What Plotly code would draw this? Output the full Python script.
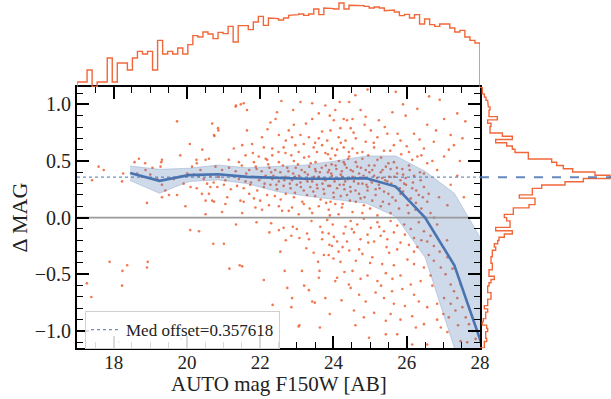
import numpy as np
import plotly.graph_objects as go

FONT = "Liberation Serif"
med_offset = 0.357618
x_title = "AUTO mag F150W [AB]"
y_title = "Δ MAG"

# running median
med_mag = [18.45, 19.25, 20.05, 20.85, 21.65, 22.45, 23.25, 24.05, 24.9, 25.7, 26.5, 27.3, 28.05]
med_dmag = [0.395, 0.325, 0.375, 0.383, 0.36, 0.35, 0.343, 0.343, 0.348, 0.274, 0.0, -0.42, -1.12]
band_hi = [0.456, 0.427, 0.436, 0.465, 0.44, 0.45, 0.465, 0.50, 0.545, 0.545, 0.41, 0.215, -0.2]
band_lo = [0.327, 0.215, 0.318, 0.333, 0.30, 0.23, 0.19, 0.156, 0.127, 0.01, -0.35, -1.15, -1.6]

# top histogram (relative heights), 80 bins over 17..28
top_hist = [15, 15, 51, 0, 15, 15, 87, 15, 72, 72,
            51, 87, 107, 99, 107, 51, 140, 99, 107, 99,
            117, 99, 127, 154, 150, 165, 159, 145, 164, 160,
            182, 135, 184, 184, 172, 195, 212, 185, 207, 205,
            201, 207, 215, 217, 219, 215, 219, 234, 217, 237,
            235, 234, 252, 234, 245, 245, 244, 242, 237, 240,
            237, 229, 231, 225, 214, 218, 207, 217, 189, 204,
            187, 182, 189, 189, 177, 165, 170, 150, 140, 132]
# right histogram (relative widths), 80 bins from +1.15 down to -1.15
right_hist = [7, 7, 13, 18, 23, 25, 30, 27, 27, 52,
              23, 33, 30, 30, 67, 97, 47, 80, 97, 105,
              145, 145, 215, 230, 250, 278, 345, 390, 310, 255,
              185, 157, 157, 118, 165, 165, 147, 100, 100, 73,
              80, 90, 90, 47, 97, 73, 57, 53, 43, 47,
              37, 37, 33, 33, 37, 37, 27, 27, 43, 33,
              27, 23, 23, 33, 33, 23, 23, 13, 23, 17,
              17, 10, 7, 20, 23, 17, 17, 20, 13, 13]

# scatter points (mag, dmag)
pts_bright = [(17.41, 0.33), (17.59, 0.45), (17.73, 0.42), (18.23, 0.32), (18.26, 0.39), (17.27, -0.58),
              (17.39, -0.70), (17.89, -0.39), (18.24, -0.47), (18.37, -0.42), (18.23, -0.60), (18.93, -0.39),
              (18.91, -0.44), (18.14, -1.10), (19.85, -1.07), (20.33, -0.12), (20.09, -0.11), (20.72, -0.23),
              (19.73, 0.85), (20.69, 0.83), (20.75, 0.72), (20.08, 0.65), (20.42, 0.60), (19.82, 0.55),
              (18.69, 0.52), (18.57, 0.49), (18.86, 0.48), (19.32, 0.51), (19.30, 0.49), (19.06, 0.44),
              (18.87, 0.42), (19.28, 0.45), (18.64, 0.39), (18.78, 0.36), (19.0, 0.38), (19.19, 0.34),
              (19.32, 0.29), (19.41, 0.24), (19.32, 0.18), (19.51, 0.20), (18.91, 0.13), (19.73, 0.20),
              (19.91, 0.30), (20.10, 0.27), (20.01, 0.39), (20.14, 0.45), (20.26, 0.51), (20.27, 0.48),
              (20.37, 0.42), (20.51, 0.51), (20.60, 0.52), (20.46, 0.34), (20.55, 0.30), (20.64, 0.27),
              (20.73, 0.31), (20.27, 0.26), (20.41, 0.21), (20.60, 0.21), (20.69, 0.15), (20.51, 0.15),
              (19.96, 0.10), (20.51, 0.03), (19.82, 0.36), (19.64, 0.34), (20.19, 0.38), (20.33, 0.37),
              (20.64, 0.37), (20.86, 0.77)]
pts_mid_high = [(21.55, 1.01), (22.58, 1.03), (23.1, 1.02), (23.42, 1.01), (21.33, 0.98), (22.46, 0.93),
                (21.64, 0.95), (23.6, 0.92), (23.78, 0.99), (24.05, 0.95), (24.17, 1.02), (24.28, 0.87),
                (22.42, 0.87), (22.28, 0.84), (23.42, 0.87), (24.01, 0.86), (22.92, 0.82), (20.85, 0.79),
                (21.64, 0.77), (22.78, 0.77), (23.1, 0.73), (23.69, 0.76), (23.92, 0.77), (24.19, 0.79),
                (24.37, 0.86), (22.05, 0.71), (22.51, 0.73), (22.87, 0.71), (23.33, 0.71), (23.6, 0.70),
                (23.83, 0.68), (24.14, 0.71), (24.33, 0.68), (20.74, 0.73), (21.51, 0.64), (21.78, 0.65),
                (22.1, 0.62), (22.33, 0.61), (22.64, 0.62), (22.96, 0.64), (23.19, 0.65), (23.46, 0.62),
                (23.69, 0.64), (23.96, 0.61), (24.28, 0.62), (21.28, 0.61), (21.6, 0.55), (21.96, 0.54),
                (22.33, 0.55), (22.69, 0.57), (23.05, 0.58), (23.33, 0.54), (23.78, 0.57), (24.05, 0.55),
                (24.42, 0.58), (21.14, 0.51), (21.42, 0.49), (21.83, 0.49), (22.19, 0.51), (22.51, 0.49),
                (22.92, 0.50), (23.51, 0.49), (23.92, 0.52), (24.28, 0.49), (21.34, 0.99), (21.47, 1.0)]
pts_mid_core = [(20.78, 0.45), (20.96, 0.42), (21.15, 0.44), (21.33, 0.41), (21.5, 0.46), (21.7, 0.42),
                (21.88, 0.45), (22.04, 0.41), (22.25, 0.44), (22.41, 0.42), (22.62, 0.46), (22.77, 0.41),
                (22.97, 0.44), (23.13, 0.42), (23.34, 0.45), (23.52, 0.41), (23.68, 0.44), (23.88, 0.42),
                (24.06, 0.46), (24.23, 0.41), (24.36, 0.44), (20.87, 0.36), (21.05, 0.33), (21.24, 0.37),
                (21.42, 0.34), (21.6, 0.32), (21.79, 0.36), (21.97, 0.33), (22.15, 0.37), (22.33, 0.34),
                (22.51, 0.32), (22.69, 0.36), (22.87, 0.33), (23.06, 0.37), (23.24, 0.34), (23.42, 0.32),
                (23.6, 0.36), (23.78, 0.33), (23.96, 0.37), (24.14, 0.34), (24.32, 0.32), (20.83, 0.27),
                (21.01, 0.29), (21.2, 0.25), (21.37, 0.28), (21.55, 0.26), (21.73, 0.29), (21.92, 0.24),
                (22.1, 0.27), (22.28, 0.29), (22.46, 0.25), (22.64, 0.28), (22.83, 0.26), (23.0, 0.29),
                (23.19, 0.24), (23.37, 0.27), (23.55, 0.29), (23.73, 0.25), (23.91, 0.28), (24.1, 0.26),
                (24.28, 0.29), (21.1, 0.18), (21.46, 0.15), (21.83, 0.17), (22.19, 0.20), (22.56, 0.16),
                (22.92, 0.18), (23.28, 0.20), (23.65, 0.16), (24.01, 0.18), (24.37, 0.20), (20.74, 0.14),
                (21.05, 0.12), (21.55, 0.14), (21.87, 0.09), (22.24, 0.11), (22.51, 0.10), (22.87, 0.09),
                (23.19, 0.12), (23.6, 0.10), (23.92, 0.14), (24.23, 0.09), (20.96, 0.05), (21.51, 0.04),
                (22.05, 0.07), (22.78, 0.06), (23.05, 0.03), (23.42, 0.04), (23.87, 0.07), (24.14, 0.03),
                (23.3, 0.38), (23.5, 0.43), (23.7, 0.30), (23.85, 0.40), (24.0, 0.22), (24.2, 0.38),
                (23.1, 0.31), (22.9, 0.39), (24.3, 0.25), (23.95, 0.47), (23.45, 0.23), (24.15, 0.50),
                (22.7, 0.21), (22.3, 0.40), (23.8, 0.13), (24.25, 0.12)]
pts_mid_neg = [(21.34, -0.06), (21.01, -0.23), (21.16, -0.45), (21.44, -0.42), (21.51, -0.43), (21.9, -0.04),
               (22.25, -0.13), (22.34, -0.77), (22.51, -0.11), (22.64, -0.09), (22.67, -0.47), (22.74, -0.62),
               (22.85, -0.16), (22.89, -0.08), (22.87, -0.71), (22.85, -0.79), (23.07, -0.95), (23.07, -0.18),
               (23.14, -0.47), (23.28, -0.14), (23.33, -0.19), (23.26, -0.27), (23.33, -0.64), (23.42, -0.74),
               (23.46, -0.31), (23.58, -0.39), (23.6, -0.53), (23.62, -0.47), (23.64, -0.08), (23.69, -0.19),
               (23.74, -0.33), (23.83, -0.02), (23.87, -0.14), (23.89, -0.24), (23.96, -0.25), (23.98, -0.06),
               (24.01, -0.17), (24.05, -0.56), (24.1, -0.53), (24.14, -0.30), (24.19, -0.39), (24.22, -0.73),
               (23.63, -0.97), (23.49, -0.75), (24.28, -0.14), (24.37, -0.21), (24.42, -0.59), (24.33, -0.08),
               (24.1, -0.21), (23.87, -0.33), (23.78, -0.71), (23.05, -0.96)]
pts_faint_pos = [(24.43, 1.02), (24.93, 1.13), (25.7, 1.11), (26.61, 1.07), (25.61, 0.93), (24.74, 0.95),
                 (24.52, 0.87), (24.88, 0.89), (25.24, 0.86), (25.97, 0.90), (26.29, 0.96), (27.02, 0.87),
                 (27.38, 0.92), (26.56, 0.82), (24.47, 0.79), (25.02, 0.77), (25.47, 0.74), (26.2, 0.74),
                 (27.2, 0.73), (27.52, 0.70), (24.61, 0.70), (24.88, 0.67), (25.2, 0.71), (25.83, 0.68),
                 (26.47, 0.61), (26.74, 0.67), (27.29, 0.64), (24.52, 0.61), (24.79, 0.58), (25.11, 0.62),
                 (25.38, 0.59), (25.65, 0.64), (26.06, 0.58), (26.29, 0.54), (27.02, 0.54), (27.38, 0.37),
                 (27.2, 0.29), (27.56, 0.18), (26.56, 0.48), (26.83, 0.42), (26.47, 0.39), (26.38, 0.33),
                 (24.43, 0.54), (24.61, 0.49), (24.79, 0.52), (24.97, 0.46), (25.2, 0.51), (25.43, 0.45),
                 (25.65, 0.49), (25.88, 0.43), (26.06, 0.46), (24.47, 0.42), (24.7, 0.39), (24.88, 0.42),
                 (25.11, 0.37), (25.29, 0.40), (25.52, 0.36), (25.74, 0.39), (25.97, 0.35), (26.2, 0.37),
                 (24.56, 0.32), (24.79, 0.30), (25.02, 0.33), (25.24, 0.29), (25.47, 0.32), (25.7, 0.27),
                 (25.93, 0.30), (26.15, 0.26), (26.47, 0.27), (24.47, 0.23), (24.7, 0.21), (24.93, 0.24),
                 (25.15, 0.20), (25.38, 0.23), (25.61, 0.18), (25.83, 0.21), (26.11, 0.17), (26.33, 0.20),
                 (24.61, 0.14), (24.83, 0.11), (25.06, 0.15), (25.29, 0.10), (25.52, 0.12), (25.79, 0.08),
                 (26.02, 0.11), (26.24, 0.07), (26.56, 0.14), (24.52, 0.05), (24.79, 0.04), (25.2, 0.02),
                 (25.56, 0.04), (26.65, 0.04), (26.88, 0.18), (27.11, 0.11), (24.65, 0.45), (25.06, 0.42),
                 (25.33, 0.35), (24.52, 0.36), (24.93, 0.27), (24.74, 0.17), (25.56, 0.43), (25.83, 0.33)]
pts_faint_neg = [(24.47, -0.03), (24.65, -0.06), (24.83, -0.01), (25.02, -0.09), (25.2, -0.04), (25.38, -0.12),
                 (25.56, -0.03), (25.74, -0.07), (24.56, -0.13), (24.93, -0.15), (25.29, -0.16), (25.65, -0.13),
                 (25.93, -0.06), (26.11, -0.10), (26.2, -0.18), (26.33, -0.04), (26.47, -0.12), (26.65, -0.16),
                 (26.83, -0.06), (24.74, -0.19), (25.11, -0.21), (25.47, -0.19), (25.83, -0.22), (26.06, -0.24),
                 (26.29, -0.26), (26.56, -0.21), (26.74, -0.25), (24.43, -0.29), (24.61, -0.38), (24.79, -0.32),
                 (25.06, -0.35), (25.33, -0.41), (25.52, -0.31), (25.74, -0.28), (26.02, -0.37), (26.2, -0.41),
                 (26.47, -0.44), (26.74, -0.38), (26.93, -0.44), (27.11, -0.35), (24.52, -0.47), (24.74, -0.54),
                 (24.93, -0.51), (25.2, -0.56), (25.43, -0.49), (25.61, -0.54), (25.83, -0.51), (26.11, -0.59),
                 (26.38, -0.56), (26.65, -0.51), (27.06, -0.50), (27.2, -0.59), (27.29, -0.65), (24.47, -0.62),
                 (24.7, -0.68), (24.88, -0.74), (25.15, -0.66), (25.38, -0.71), (25.65, -0.76), (25.88, -0.63),
                 (26.2, -0.68), (26.33, -0.74), (26.56, -0.79), (26.83, -0.76), (27.02, -0.71), (27.15, -0.88),
                 (27.33, -0.82), (24.56, -0.82), (24.83, -0.88), (25.11, -0.84), (25.43, -0.91), (25.56, -0.85),
                 (25.83, -0.90), (26.15, -0.87), (26.47, -0.94), (26.93, -0.97), (27.11, -1.01), (27.47, -1.09),
                 (24.97, -1.06), (25.43, -1.03), (25.74, -1.03), (26.15, -1.12), (26.56, -1.12), (26.83, -0.90),
                 (27.38, -0.71), (27.52, -0.79), (27.61, -0.88), (27.7, -0.94), (27.79, -1.00), (27.88, -1.07),
                 (27.47, -0.59), (27.2, -0.76)]
pts_dense_extra = [(21.62, 0.39), (21.75, 0.31), (21.9, 0.43), (22.02, 0.35), (22.12, 0.30), (22.22, 0.47),
                   (22.36, 0.37), (22.44, 0.29), (22.55, 0.40), (22.66, 0.33), (22.74, 0.44), (22.81, 0.30),
                   (22.95, 0.36), (23.03, 0.47), (23.11, 0.27), (23.22, 0.40), (23.29, 0.32), (23.38, 0.48),
                   (23.47, 0.36), (23.56, 0.26), (23.63, 0.40), (23.71, 0.34), (23.79, 0.46), (23.86, 0.28),
                   (23.94, 0.39), (24.03, 0.32), (24.08, 0.43), (24.17, 0.29), (24.24, 0.36), (24.31, 0.47),
                   (24.4, 0.34), (24.46, 0.27), (24.53, 0.41), (24.6, 0.35), (24.68, 0.30), (24.75, 0.44),
                   (24.82, 0.37), (24.9, 0.29), (24.98, 0.40), (25.05, 0.31), (25.12, 0.46), (25.19, 0.35),
                   (25.26, 0.26), (25.34, 0.42), (25.41, 0.33), (25.5, 0.48), (25.58, 0.30), (25.66, 0.36),
                   (25.73, 0.44), (25.81, 0.26), (25.9, 0.38), (25.98, 0.29), (26.08, 0.42), (26.17, 0.31),
                   (26.26, 0.24), (26.36, 0.40), (26.44, 0.18),
                   (21.7, 0.21), (22.0, 0.15), (22.4, 0.19), (22.6, 0.06), (22.95, 0.22), (23.15, 0.14),
                   (23.35, 0.08), (23.5, 0.19), (23.75, 0.21), (23.9, 0.02), (24.05, 0.12), (24.2, 0.19),
                   (24.45, 0.15), (24.6, 0.24), (24.85, 0.18), (25.0, 0.08), (25.15, 0.25), (25.35, 0.14),
                   (25.5, 0.21), (25.7, 0.15), (25.9, 0.23), (26.05, 0.04), (26.25, 0.13), (26.4, 0.08),
                   (26.6, 0.21), (26.75, 0.0),
                   (21.8, 0.57), (22.15, 0.52), (22.5, 0.58), (22.85, 0.55), (23.2, 0.53), (23.55, 0.58),
                   (23.85, 0.56), (24.1, 0.60), (24.4, 0.52), (24.65, 0.57), (24.95, 0.55), (25.3, 0.53),
                   (25.55, 0.59), (25.85, 0.56), (26.15, 0.51), (26.4, 0.55), (26.7, 0.50)]
pts_wide_extra = [(22.3, -0.05), (22.7, -0.2), (23.0, -0.1), (23.4, -0.03), (23.7, -0.13), (24.0, -0.36),
                  (24.25, -0.26), (24.5, -0.1), (24.7, -0.28), (24.95, -0.22), (25.25, -0.08), (25.45, -0.26),
                  (25.65, -0.42), (25.95, -0.15), (26.2, -0.3), (26.4, -0.2), (26.6, -0.33), (26.9, -0.3),
                  (27.1, -0.2), (27.25, -0.45),
                  (22.2, 0.78), (22.7, 0.68), (23.25, 0.83), (23.5, 0.66), (23.9, 0.9), (24.2, 0.66),
                  (24.55, 0.75), (24.85, 0.82), (25.1, 0.66), (25.4, 0.8), (25.75, 0.74), (26.0, 0.63),
                  (26.35, 0.69), (26.8, 0.77), (27.15, 0.6), (27.45, 0.5), (22.9, 0.95), (24.6, 1.08),
                  (25.9, 1.0), (26.9, 1.04), (27.6, 0.85),
                  (22.1, -0.55), (22.55, -0.3), (23.2, -0.6), (23.9, -0.85), (24.3, -0.48), (24.6, -0.95),
                  (25.0, -0.4), (25.3, -0.6), (25.6, -0.65), (25.95, -0.78), (26.25, -0.97), (26.7, -0.6),
                  (27.0, -0.85), (27.4, -0.95), (27.65, -1.1)]

all_pts = (pts_bright + pts_mid_high + pts_mid_core + pts_mid_neg + pts_faint_pos + pts_faint_neg
           + pts_dense_extra + pts_wide_extra)
sc_mag = [p[0] for p in all_pts]
sc_dmag = [p[1] for p in all_pts]

XR = [17, 28]
YR = [-1.153, 1.153]
W, H = 611, 399
xd_main = [77 / W, 480 / W]
yd_main = [(H - 348.3) / H, (H - 87) / H]

ORANGE = "#f2673a"
BLUE = "#4a74b0"

fig = go.Figure()

fig.add_trace(go.Scatter(x=sc_mag, y=sc_dmag, mode="markers", showlegend=False,
                         marker=dict(size=2.6, color="rgba(240,96,52,0.85)", line=dict(width=0)),
                         xaxis="x", yaxis="y"))
fig.add_trace(go.Scatter(x=med_mag + med_mag[::-1], y=band_hi + band_lo[::-1], fill="toself",
                         fillcolor="rgba(74,116,176,0.27)", line=dict(color="rgba(74,116,176,0.25)", width=1),
                         mode="lines", showlegend=False, xaxis="x", yaxis="y"))
fig.add_trace(go.Scatter(x=XR, y=[0, 0], mode="lines", line=dict(color="#9a9a9a", width=1.6),
                         showlegend=False, xaxis="x", yaxis="y"))
fig.add_trace(go.Scatter(x=med_mag, y=med_dmag, mode="lines", line=dict(color=BLUE, width=2.6),
                         showlegend=False, xaxis="x", yaxis="y"))
fig.add_trace(go.Scatter(x=XR, y=[med_offset, med_offset], mode="lines",
                         line=dict(color="rgba(74,116,176,0.8)", width=1.2, dash="dot"),
                         name="Med offset=%.6f" % med_offset, showlegend=True, xaxis="x", yaxis="y"))

tedges = np.linspace(XR[0], XR[1], len(top_hist) + 1)
tx, ty = [tedges[0]], [0]
for i, h in enumerate(top_hist):
    tx += [tedges[i], tedges[i + 1]]
    ty += [h, h]
tx.append(tedges[-1]); ty.append(0)
fig.add_trace(go.Scatter(x=tx, y=ty, mode="lines", line=dict(color=ORANGE, width=1.4),
                         showlegend=False, xaxis="x2", yaxis="y2"))

redges = np.linspace(1.15, -1.15, len(right_hist) + 1)
rx, ry = [0], [redges[0]]
for j, w in enumerate(right_hist):
    rx += [w, w]
    ry += [redges[j], redges[j + 1]]
rx.append(0); ry.append(redges[-1])
fig.add_trace(go.Scatter(x=rx, y=ry, mode="lines", line=dict(color=ORANGE, width=1.4),
                         showlegend=False, xaxis="x3", yaxis="y3"))
fig.add_trace(go.Scatter(x=[0, 393], y=[med_offset, med_offset], mode="lines",
                         line=dict(color="rgba(74,116,176,0.85)", width=2, dash="dash"),
                         showlegend=False, xaxis="x3", yaxis="y3"))

axis_common = dict(showgrid=False, zeroline=False, showline=True, linecolor="black", linewidth=2,
                   mirror="allticks", ticks="inside", ticklen=12, tickwidth=1.8, tickcolor="black",
                   automargin=False)

fig.update_layout(
    width=W, height=H, margin=dict(l=0, r=0, t=0, b=0),
    paper_bgcolor="white", plot_bgcolor="white",
    font=dict(family=FONT, color="#222"),
    xaxis=dict(domain=xd_main, range=XR, anchor="y", tickmode="linear", tick0=18, dtick=2,
               ticklabelstandoff=-4, tickfont=dict(family=FONT, size=19, color="#222"),
               minor=dict(ticks="inside", ticklen=6, tickwidth=1.3, tickcolor="black", tick0=17, dtick=0.5),
               **axis_common),
    yaxis=dict(domain=yd_main, range=YR, anchor="x", tickmode="linear", tick0=0, dtick=0.5, tickformat=".1f",
               tickfont=dict(family=FONT, size=20, color="#222"),
               minor=dict(ticks="inside", ticklen=6, tickwidth=1.3, tickcolor="black", tick0=0, dtick=0.1),
               **axis_common),
    xaxis2=dict(domain=xd_main, range=XR, anchor="y2", visible=False),
    yaxis2=dict(domain=[yd_main[1], 1.0], range=[0, 261], anchor="x2", visible=False),
    xaxis3=dict(domain=[480 / W, 1.0], range=[0, 393], anchor="y3", visible=False),
    yaxis3=dict(domain=yd_main, range=YR, anchor="x3", visible=False),
    legend=dict(x=85 / W, y=(H - 311) / H, xanchor="left", yanchor="top",
                bgcolor="rgba(255,255,255,0.85)", bordercolor="#d0d0d0", borderwidth=1,
                font=dict(family=FONT, size=17, color="#222")),
    annotations=[
        dict(text=x_title, xref="paper", yref="paper", x=(xd_main[0] + xd_main[1]) / 2, y=1 / H,
             xanchor="center", yanchor="bottom", showarrow=False,
             font=dict(family=FONT, size=21, color="#222")),
        dict(text=y_title, xref="paper", yref="paper", x=4 / W, y=(H - 218) / H, textangle=-90,
             xanchor="left", yanchor="middle", showarrow=False,
             font=dict(family=FONT, size=22, color="#222")),
    ],
)

fig.write_html("out.html")
